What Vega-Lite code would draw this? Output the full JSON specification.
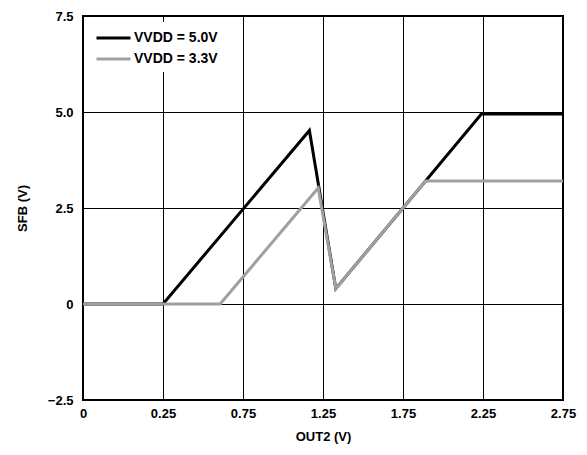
{
  "$schema": "https://vega.github.io/schema/vega-lite/v6.json",
  "width": 480,
  "height": 384,
  "autosize": {"type": "none"},
  "padding": {"left": 83, "top": 16, "right": 24, "bottom": 55},
  "background": "white",
  "config": {
    "font": "Liberation Sans",
    "view": {"stroke": "black", "strokeWidth": 2}
  },
  "data": {
    "values": [
      {"out2": -0.25, "sfb": 0, "series": "VVDD = 5.0V"},
      {"out2": 0.25, "sfb": 0, "series": "VVDD = 5.0V"},
      {"out2": 1.165, "sfb": 4.52, "series": "VVDD = 5.0V"},
      {"out2": 1.33, "sfb": 0.4, "series": "VVDD = 5.0V"},
      {"out2": 2.24, "sfb": 4.95, "series": "VVDD = 5.0V"},
      {"out2": 2.75, "sfb": 4.95, "series": "VVDD = 5.0V"},
      {"out2": -0.25, "sfb": 0, "series": "VVDD = 3.3V"},
      {"out2": 0.607, "sfb": 0, "series": "VVDD = 3.3V"},
      {"out2": 1.22, "sfb": 3.02, "series": "VVDD = 3.3V"},
      {"out2": 1.33, "sfb": 0.4, "series": "VVDD = 3.3V"},
      {"out2": 1.89, "sfb": 3.2, "series": "VVDD = 3.3V"},
      {"out2": 2.75, "sfb": 3.2, "series": "VVDD = 3.3V"}
    ]
  },
  "mark": {"type": "line", "strokeWidth": 3, "clip": true},
  "encoding": {
    "x": {
      "field": "out2",
      "type": "quantitative",
      "scale": {"domain": [-0.25, 2.75], "nice": false, "zero": false},
      "axis": {
        "title": "OUT2 (V)",
        "values": [-0.25, 0.25, 0.75, 1.25, 1.75, 2.25, 2.75],
        "labelExpr": "datum.value < 0 ? '0' : format(datum.value, '.2f')",
        "grid": true,
        "gridColor": "black",
        "gridWidth": 1,
        "gridOpacity": 1,
        "domain": false,
        "ticks": false,
        "labelPadding": 7,
        "labelFontSize": 13,
        "labelFontWeight": "bold",
        "labelColor": "black",
        "labelFlush": false,
        "titleFontSize": 13,
        "titleFontWeight": "bold",
        "titleColor": "black",
        "titlePadding": 10
      }
    },
    "y": {
      "field": "sfb",
      "type": "quantitative",
      "scale": {"domain": [-2.5, 7.5], "nice": false},
      "axis": {
        "title": "SFB (V)",
        "values": [-2.5, 0, 2.5, 5, 7.5],
        "labelExpr": "datum.value == 0 ? '0' : replace(format(datum.value, '.1f'), '-', '\u2212')",
        "grid": true,
        "gridColor": "black",
        "gridWidth": 1,
        "gridOpacity": 1,
        "domain": false,
        "ticks": false,
        "labelPadding": 10,
        "labelFontSize": 13,
        "labelFontWeight": "bold",
        "labelColor": "black",
        "labelFlush": false,
        "titleFontSize": 13,
        "titleFontWeight": "bold",
        "titleColor": "black",
        "titlePadding": 18
      }
    },
    "color": {
      "field": "series",
      "type": "nominal",
      "sort": ["VVDD = 5.0V", "VVDD = 3.3V"],
      "scale": {"domain": ["VVDD = 5.0V", "VVDD = 3.3V"], "range": ["black", "#a0a0a0"]},
      "legend": {
        "title": null,
        "orient": "none",
        "legendX": 6,
        "legendY": 6,
        "padding": 6,
        "fillColor": "white",
        "symbolType": "M-1,0H3",
        "symbolSize": 289,
        "symbolStrokeWidth": 3,
        "labelFontSize": 14,
        "labelFontWeight": "bold",
        "labelColor": "black",
        "rowPadding": 4,
        "labelOffset": 19
      }
    }
  }
}
